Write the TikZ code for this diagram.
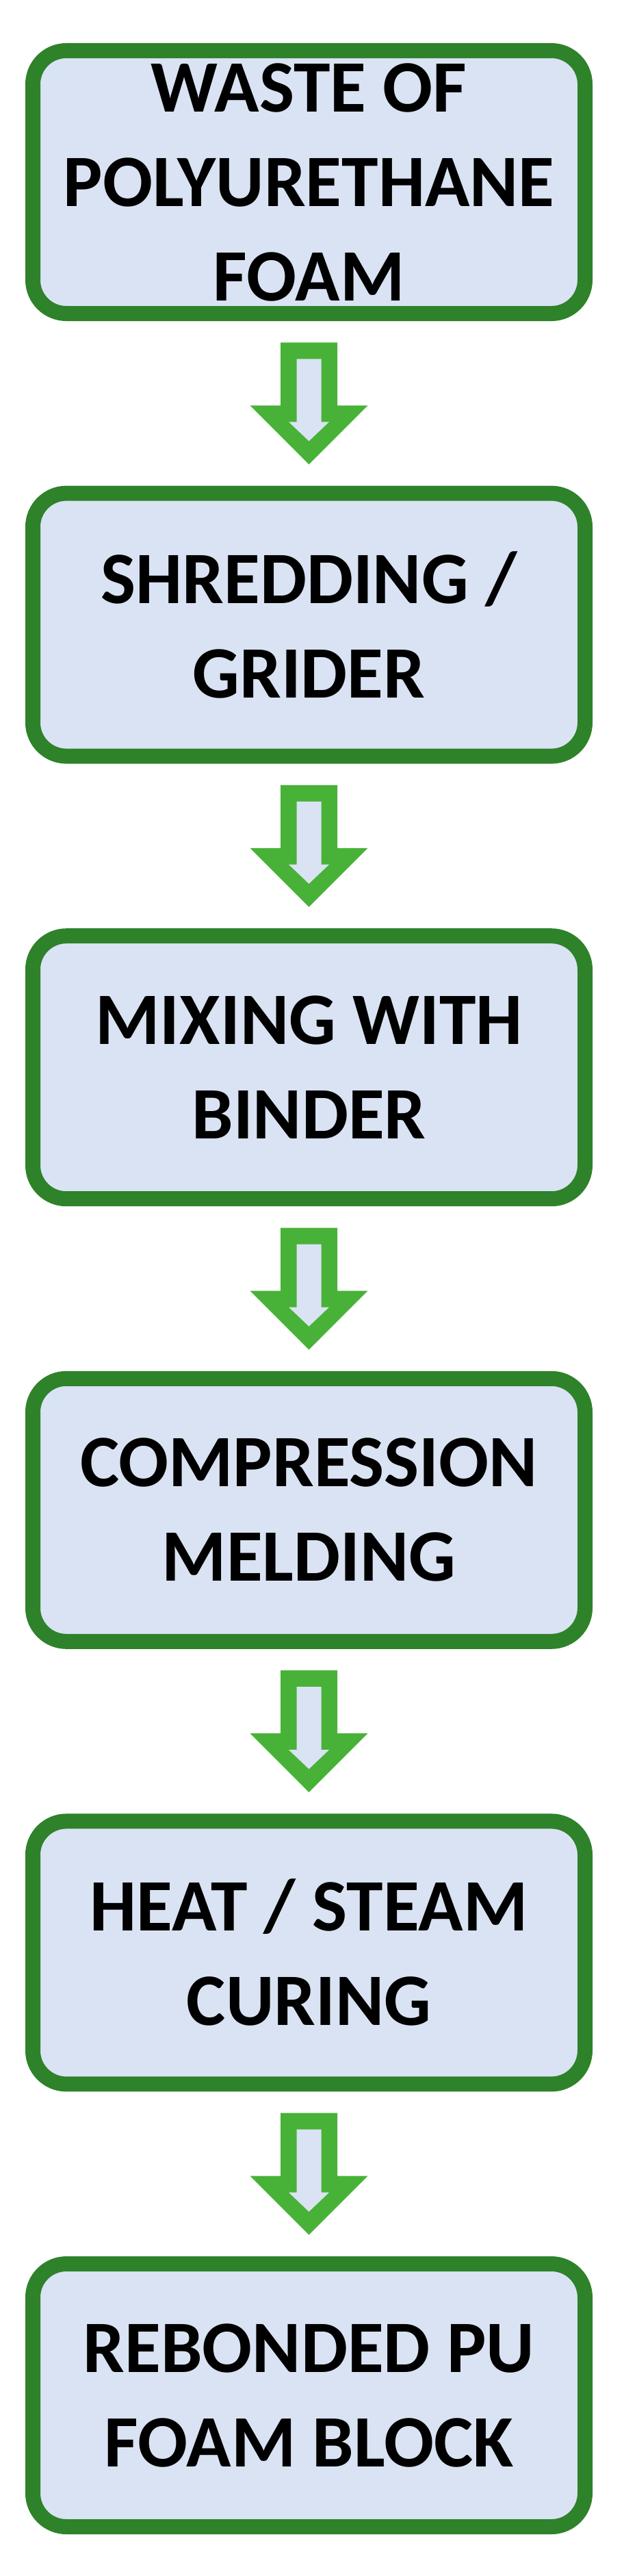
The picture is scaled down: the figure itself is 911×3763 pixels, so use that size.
\documentclass[tikz,border=0pt]{standalone}
\usepackage{fontspec}
\setmainfont{Carlito}
\usetikzlibrary{calc}
\definecolor{boxgreen}{RGB}{46,130,42}
\definecolor{arrowgreen}{RGB}{72,178,56}
\definecolor{boxfill}{RGB}{218,227,243}
\begin{document}
\begin{tikzpicture}[x=1pt,y=-1pt,
  stepbox/.style={draw=boxgreen, line width=22pt, fill=boxfill, rounded corners=49pt,
    minimum width=807pt, minimum height=384pt, inner sep=0pt, align=center,
    font=\fontsize{108}{138}\selectfont\bfseries},
  blockarrow/.pic={
    \fill[arrowgreen] (-41.5,-89) -- (41.5,-89) -- (41.5,3) -- (86,3) -- (0,89) -- (-86,3) -- (-41.5,3) -- cycle;
    \fill[boxfill] (-18,-65) -- (18,-65) -- (18,27) -- (29.5,27) -- (0,55) -- (-29.5,27) -- (-18,27) -- cycle;
  }]
\useasboundingbox[fill=white] (0,0) rectangle (911,3763);
\node[stepbox] (b1) at (451.5,266) {WASTE OF\\POLYURETHANE\\FOAM};
\node[stepbox] (b2) at (451.5,912.6) {SHREDDING /\\GRIDER};
\node[stepbox] (b3) at (451.5,1559.2) {MIXING WITH\\BINDER};
\node[stepbox] (b4) at (451.5,2205.8) {COMPRESSION\\MELDING};
\node[stepbox] (b5) at (451.5,2852.4) {HEAT / STEAM\\CURING};
\node[stepbox] (b6) at (451.5,3499) {REBONDED PU\\FOAM BLOCK};
\pic at ($(b1.south)!0.5!(b2.north)$) {blockarrow};
\pic at ($(b2.south)!0.5!(b3.north)$) {blockarrow};
\pic at ($(b3.south)!0.5!(b4.north)$) {blockarrow};
\pic at ($(b4.south)!0.5!(b5.north)$) {blockarrow};
\pic at ($(b5.south)!0.5!(b6.north)$) {blockarrow};
\end{tikzpicture}
\end{document}
